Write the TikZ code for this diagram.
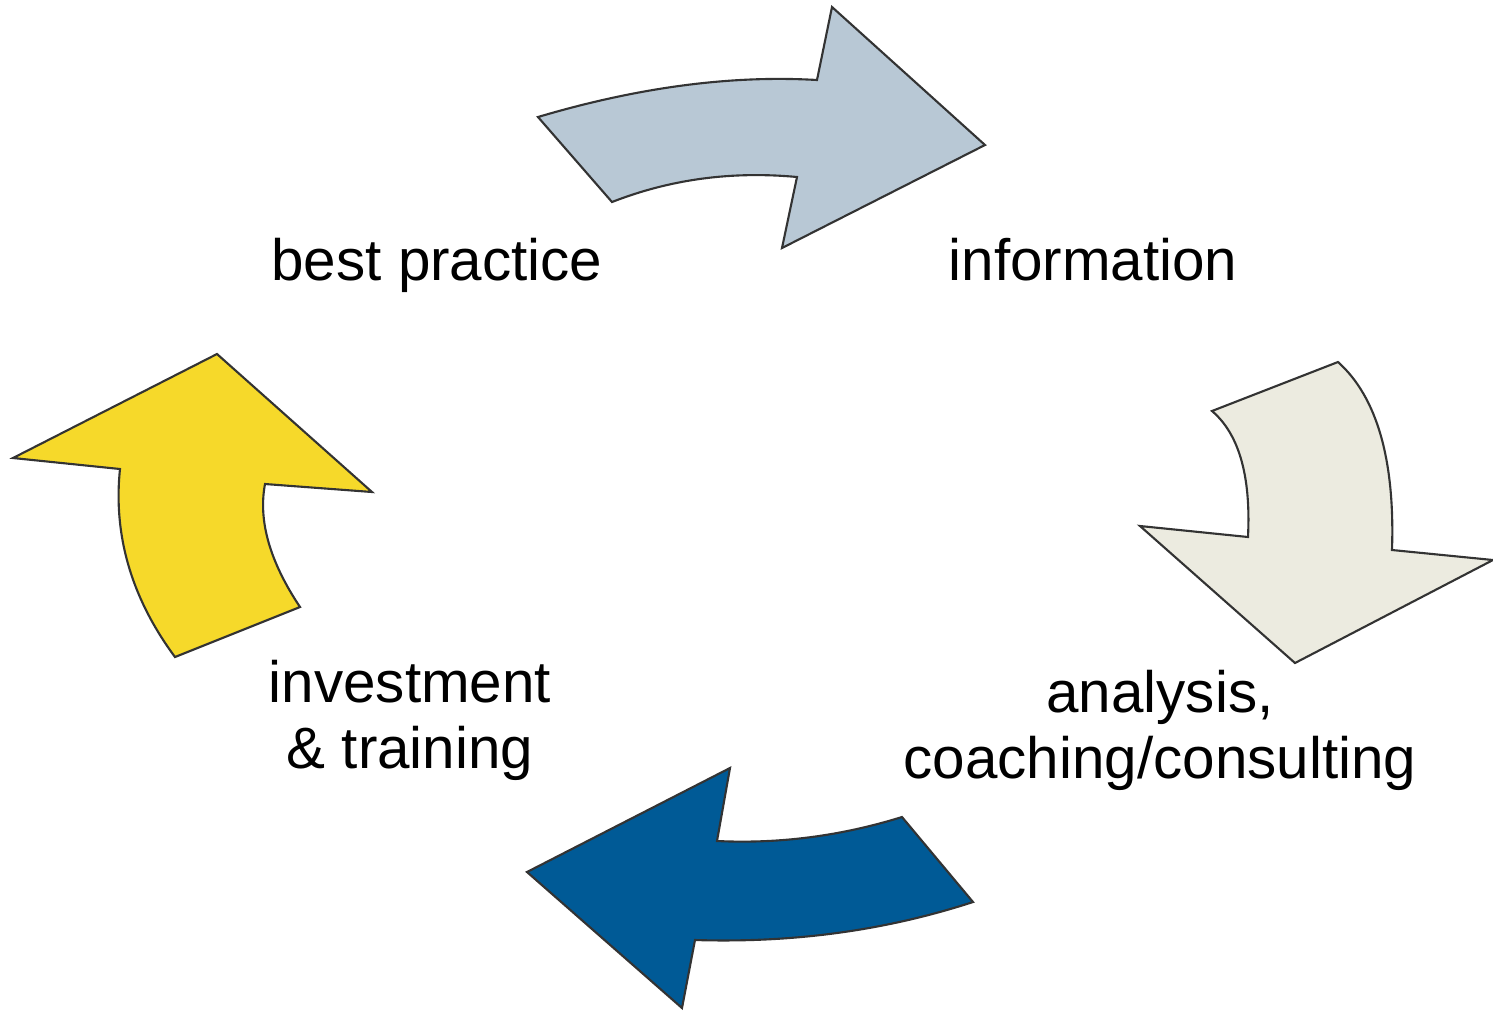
\documentclass[tikz,border=0pt]{standalone}
\usepackage{fontspec}
\setmainfont{Liberation Sans}
\usepackage{xcolor}
\usepackage{tikz}
\usetikzlibrary{positioning}
\definecolor{infoblue}{RGB}{184,200,213}
\definecolor{anagrey}{RGB}{236,235,224}
\definecolor{invblue}{RGB}{0,90,150}
\definecolor{bpyellow}{RGB}{246,217,42}
\tikzset{
  cyclearrow/.style={draw=black!80, line width=0.6pt, line join=miter},
  phaselabel/.style={inner sep=0pt, align=center, anchor=base,
                     font=\fontsize{16.6}{18.5}\selectfont},
}

\begin{document}
\begin{tikzpicture}[x=0.01cm, y=-0.01cm]

%% Canvas (keeps the reference margins)
\useasboundingbox (0,0) rectangle (1493,1011);

%% ── (1) best practice -> information ────────────────────────────────────
\fill[cyclearrow, fill=infoblue]
  (538,117) .. controls (639,87) and (732,75) .. (817,80) -- (832,7)
  -- (985,145) -- (782,248) -- (797,177)
  .. controls (732,171) and (671,179) .. (612,202) -- cycle;

%% ── (2) information -> analysis ─────────────────────────────────────────
\fill[cyclearrow, fill=anagrey]
  (1212,411) -- (1338,362) .. controls (1377,397) and (1395,460) .. (1392,550)
  -- (1493,560) -- (1295,663) -- (1140,526) -- (1248,537)
  .. controls (1251,476) and (1239,434) .. cycle;

%% ── (3) analysis -> investment ──────────────────────────────────────────
\fill[cyclearrow, fill=invblue]
  (902,817) -- (973,902) .. controls (884,931) and (792,943) .. (695,940)
  -- (682,1008) -- (527,872) -- (730,768) -- (717,841)
  .. controls (779,844) and (841,836) .. cycle;

%% ── (4) investment -> best practice ─────────────────────────────────────
\fill[cyclearrow, fill=bpyellow]
  (175,657) -- (300,607) .. controls (270,562) and (258,521) .. (265,484)
  -- (372,492) -- (217,354) -- (13,458) -- (120,469)
  .. controls (113,536) and (132,599) .. cycle;

%% Phase labels (base = baseline of the last line)
\node[phaselabel] (bp)   at (437,280) {best practice};
\node[phaselabel] (info) at (1093,280) {information};
\node[phaselabel] (inv)  at (410,768) {investment\\\& training};
\node[phaselabel] (ana)  at (1160,778) {analysis,\\coaching/consulting};

\end{tikzpicture}
\end{document}
